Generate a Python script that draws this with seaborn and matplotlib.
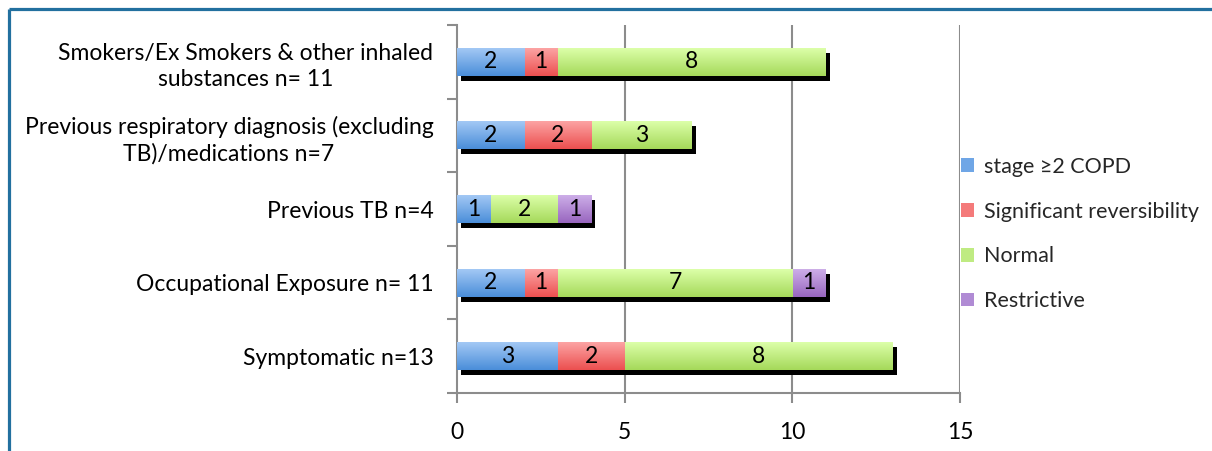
import numpy as np
import pandas as pd
import matplotlib
matplotlib.use("Agg")
import matplotlib.pyplot as plt
import matplotlib.transforms as mtransforms
from matplotlib.lines import Line2D
from matplotlib.patches import Patch
import seaborn as sns

# ---- data -------------------------------------------------------------
categories = [
    "Smokers/Ex Smokers & other inhaled\nsubstances n= 11",
    "Previous respiratory diagnosis (excluding\nTB)/medications n=7",
    "Previous TB n=4",
    "Occupational Exposure n= 11",
    "Symptomatic n=13",
]
series_names = ["stage \u22652 COPD", "Significant reversibility", "Normal", "Restrictive"]
copd = [2, 2, 1, 2, 3]
reversibility = [1, 2, 0, 1, 2]
normal = [8, 3, 2, 7, 8]
restrictive = [0, 0, 1, 1, 0]
x_ticks = [0, 5, 10, 15]

series_values = [copd, reversibility, normal, restrictive]

# gradient colours (top, bottom) for each series
grad_colors = [
    ("#a3c8f5", "#4a8ed9"),
    ("#fca3a3", "#ec5050"),
    ("#dcffa9", "#a5d95a"),
    ("#cdaee8", "#9866bf"),
]
legend_colors = ["#6fa6e6", "#f47a7a", "#bfeb82", "#b08bd4"]

sns.set_theme(style="white")
plt.rcParams["font.family"] = ["Lato", "DejaVu Sans"]
FS = 16.5

fig = plt.figure(figsize=(12.12, 4.51), dpi=100)
ax = fig.add_axes([457 / 1212, 1 - 393 / 451, (960 - 457) / 1212, (393 - 25) / 451])

df = pd.DataFrame({name: vals for name, vals in zip(series_names, series_values)})
df["category"] = categories
cum = df[series_names].cumsum(axis=1)
totals = cum[series_names[-1]].values

BAR_H = 0.38

# drop shadow behind each full stacked bar
shadow_tf = ax.transData + mtransforms.ScaledTranslation(4 / 100, -5 / 100, fig.dpi_scale_trans)
ax.barh(np.arange(len(categories)), totals, height=BAR_H, left=0, color="black",
        transform=shadow_tf, zorder=1.5, linewidth=0)


def gradient_patch(ax, patch, c_top, c_bottom, z):
    x0, y0 = patch.get_x(), patch.get_y()
    w, h = patch.get_width(), patch.get_height()
    if w <= 0:
        return
    top = np.array(matplotlib.colors.to_rgba(c_top))
    bot = np.array(matplotlib.colors.to_rgba(c_bottom))
    t = np.linspace(0, 1, 64)[:, None]
    img = (top[None, :] * (1 - t) + bot[None, :] * t)[:, None, :]
    im = ax.imshow(img, extent=(x0, x0 + w, y0 + h, y0), aspect="auto",
                   interpolation="bilinear", zorder=z)
    im.set_clip_path(patch)


# stacked bars drawn widest first, each narrower cumulative bar on top
for i in reversed(range(len(series_names))):
    name = series_names[i]
    n_before = len(ax.patches)
    sns.barplot(x=cum[name].values, y=categories, orient="h", ax=ax,
                color=grad_colors[i][1], width=BAR_H, linewidth=0, zorder=2 + i)
    for p in ax.patches[n_before:]:
        p.set_alpha(0)
        gradient_patch(ax, p, grad_colors[i][0], grad_colors[i][1], 2 + (4 - i) * 0.1 + 2)

# value labels centred in each segment
for i, name in enumerate(series_names):
    for j, v in enumerate(series_values[i]):
        if v > 0:
            xc = cum[name].values[j] - v / 2
            ax.text(xc, j, str(v), ha="center", va="center", fontsize=FS,
                    color="black", zorder=10)

ax.set_xlim(0, 15)
ax.set_ylim(len(categories) - 0.5, -0.5)
ax.set_xticks(x_ticks)
ax.set_xticklabels([str(t) for t in x_ticks], fontsize=FS)
ax.set_yticks(range(len(categories)))
ax.set_yticklabels(categories, fontsize=FS, multialignment="center", linespacing=1.3)
ax.set_yticks(np.arange(-0.5, len(categories)), minor=True)

grid_c = "#8c8c8c"
ax.grid(False)
for xv in x_ticks[1:]:
    ax.axvline(xv, color=grid_c, lw=1.5, zorder=1)
for s in ["top", "right"]:
    ax.spines[s].set_visible(False)
for s in ["left", "bottom"]:
    ax.spines[s].set_color(grid_c)
    ax.spines[s].set_linewidth(1.5)

ax.tick_params(axis="y", which="major", length=0, pad=17, colors="black")
ax.tick_params(axis="y", which="minor", length=7, width=1.5, color=grid_c, left=True)
ax.tick_params(axis="x", which="major", length=7, width=1.5, color=grid_c, pad=14,
               labelcolor="black", bottom=True)
ax.set_xlabel("")
ax.set_ylabel("")

handles = [Patch(facecolor=c, edgecolor="none") for c in legend_colors]
fig.legend(handles, series_names, loc="center left",
           bbox_to_anchor=(961 / 1212, 1 - 234 / 451), frameon=False,
           fontsize=15.5, handlelength=0.6, handleheight=0.6, handletextpad=0.45,
           labelspacing=1.15, borderaxespad=0, borderpad=0)

# blue frame along the top and left edges
frame_c = "#22709f"
fig.add_artist(Line2D([9 / 1212, 9 / 1212], [0, 1 - 9 / 451], color=frame_c, lw=2.3,
                      transform=fig.transFigure, solid_capstyle="butt"))
fig.add_artist(Line2D([9 / 1212, 1], [1 - 9 / 451, 1 - 9 / 451], color=frame_c, lw=2.3,
                      transform=fig.transFigure, solid_capstyle="butt"))

fig.savefig("out.png", dpi=100)
